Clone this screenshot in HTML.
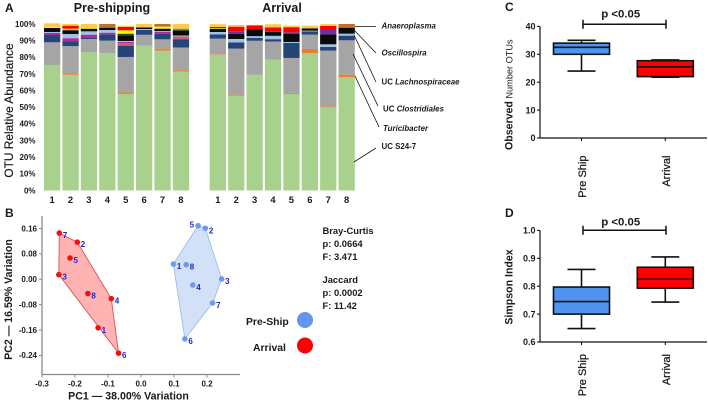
<!DOCTYPE html>
<html lang="en">
<head>
<meta charset="utf-8">
<title>Microbiome composition figure</title>
<style>
html,body{margin:0;padding:0;background:#fff}
svg{display:block;font-family:"Liberation Sans",sans-serif;filter:blur(0.3px)}
text{fill:#1a1a1a}
</style>
</head>
<body>
<svg id="fig" xmlns="http://www.w3.org/2000/svg" width="708" height="400" viewBox="0 0 708 400">
  <g id="panelA">
    <text x="5" y="12" font-size="12" font-weight="bold">A</text>
    <text x="112" y="12" font-size="12.5" font-weight="bold" text-anchor="middle">Pre-shipping</text>
    <text x="282" y="12" font-size="12.5" font-weight="bold" text-anchor="middle">Arrival</text>
    <text transform="translate(13,110.5) rotate(-90)" font-size="11.9" text-anchor="middle" stroke="#1a1a1a" stroke-width="0.2">OTU Relative Abundance</text>
  </g>
  <g id="callouts" stroke="#111" stroke-width="0.8">
    <line x1="355" y1="26.5" x2="376" y2="26.5"/>
    <line x1="354" y1="30" x2="376" y2="53"/>
    <line x1="354" y1="35" x2="376" y2="82"/>
    <line x1="353" y1="54" x2="378" y2="106"/>
    <line x1="355" y1="76" x2="379" y2="127"/>
    <line x1="354" y1="162" x2="376" y2="148"/>
  </g>
  <g font-size="7.9" font-weight="bold">
    <text x="381.5" y="28.5" font-style="italic">Anaeroplasma</text>
    <text x="381.5" y="55.5" font-style="italic">Oscillospira</text>
    <text x="381.5" y="84.5">UC <tspan font-style="italic">Lachnospiraceae</tspan></text>
    <text x="383" y="111.5">UC <tspan font-style="italic">Clostridiales</tspan></text>
    <text x="383" y="131" font-style="italic">Turicibacter</text>
    <text x="381.5" y="149">UC S24-7</text>
  </g>

  <g id="panelB">
    <text x="5" y="217" font-size="12" font-weight="bold">B</text>
    <text x="128.5" y="399.5" font-size="10.6" font-weight="bold" text-anchor="middle">PC1 — 38.00% Variation</text>
    <text transform="translate(12,299.5) rotate(-90)" font-size="10.6" font-weight="bold" text-anchor="middle">PC2 — 16.59% Variation</text>
    <g font-size="9.4" font-weight="bold">
      <text x="322.5" y="234">Bray-Curtis</text>
      <text x="322.5" y="247">p: 0.0664</text>
      <text x="322.5" y="260">F: 3.471</text>
      <text x="322.5" y="283">Jaccard</text>
      <text x="322.5" y="296">p: 0.0002</text>
      <text x="322.5" y="309">F: 11.42</text>
    </g>
    <g>
      <text x="246" y="325" font-size="10.4" font-weight="bold">Pre-Ship</text>
      <circle cx="305" cy="320" r="8" fill="#6495ed"/>
      <text x="253" y="351" font-size="10.4" font-weight="bold">Arrival</text>
      <circle cx="305" cy="345.5" r="8" fill="#ff0000"/>
    </g>
  </g>

  <g id="panelC">
    <text x="505" y="11" font-size="12" font-weight="bold">C</text>
    <text transform="translate(512.5,150) rotate(-90)" font-size="9.2"><tspan font-size="10.6" font-weight="bold">Observed</tspan> Number OTUs</text>
  </g>
  <g id="panelD">
    <text x="505" y="217" font-size="12" font-weight="bold">D</text>
    <text transform="translate(512.5,287) rotate(-90)" font-size="10.6" font-weight="bold" text-anchor="middle">Simpson Index</text>
  </g>
</svg>
<script>
// Panel A: stacked composition, 16 samples (8 pre-shipping, 8 arrival), percent per taxon, bottom to top
const sampleLabels = ['1','2','3','4','5','6','7','8'];
const percentTicks = [0,10,20,30,40,50,60,70,80,90,100];
const taxonGreen   = [75.2,69.5,83,82.4,58,87,84,71.5, 81.5,57,69.5,78.5,58,82.4,50,68];
const taxonOrange  = [0.2,0.8,0,0,0.9,0.3,1.2,0.8, 0.3,0.6,0,0,0.6,2.6,0.5,1.6];
const taxonGray    = [13.6,16.4,8,7.6,21.3,6.2,5.6,13.6, 9.4,27.6,20.4,11,21,8.6,33.5,20.6];
const taxonNavy    = [4.4,2.8,0.6,3.8,6.8,3,3.4,5, 2.6,3.8,1.8,1.4,9,2,2.2,2.8];
const taxonRose    = [0,0,0,0,1.5,0,0,1.6, 0,0,0,0,0,0,0,0];
const taxonMagenta = [1.2,2,2,1,0.7,0,1.2,0, 0,0,0,0,0,0,0,0];
const taxonLight   = [0.6,2.5,2,1.6,0.6,0.5,0.4,0.6, 1.4,2,1,2,0.6,0.4,1.6,1.2];
const taxonBlack   = [2.4,2,1.6,1.4,3.4,1,1.4,2.8, 2,3.2,4,2.4,5,1.4,6,3.6];
const taxonDark    = [0,0.6,0,0,1,0,0,0.5, 0,0,0,0,0,0,0,0];
const taxonYellow  = [0.4,0.6,0.5,0,2,0.3,1.2,0, 0.4,0,0,0,0,0,0,0];
const taxonPurple  = [0,0,0,0,0,0,0,0, 0,1.4,0,0,0.8,0,2.6,0];
const taxonRed     = [0,1.8,0,0,2,0,0,0, 0.6,2.8,2.4,2.6,3.1,0,2.4,0];
const taxonBrown   = [0,0,0,2.2,0,0,1.6,0.8, 0,0,0,0,0,0,0,2.2];
const taxonGold    = [2.4,1,2.3,0,0.8,1.7,0,2.8, 1.7,1,0.4,2,0.9,1.6,1.1,0];
const taxonNames   = ['s24-7','turicibacter','clostridiales','lachnospiraceae','rose','magenta','lightblue','black','darkgreen','yellow','purple','red','brown','gold'];
const taxonColors  = ['#a9d18e','#ed7d31','#a5a5a5','#264478','#c0606a','#b02a9c','#9dc3e6','#0a0a0a','#264a20','#ffff00','#7030a0','#ff0000','#c0702a','#ffc84a'];
const taxonSeries  = [taxonGreen,taxonOrange,taxonGray,taxonNavy,taxonRose,taxonMagenta,taxonLight,taxonBlack,taxonDark,taxonYellow,taxonPurple,taxonRed,taxonBrown,taxonGold];

// Panel B: PCoA coordinates
const pointLabels = ['1','2','3','4','5','6','7','8'];
const preShipPc1 = [0.098,0.195,0.2445,0.157,0.173,0.133,0.217,0.137];
const preShipPc2 = [0.048,0.161,0.001,-0.018,0.169,-0.188,-0.075,0.046];
const arrivalPc1 = [-0.13,-0.193,-0.249,-0.09,-0.215,-0.068,-0.2476,-0.161];
const arrivalPc2 = [-0.153,0.117,0.0145,-0.061,0.067,-0.233,0.146,-0.045];
const preShipHull = [5,2,3,7,6,1];
const arrivalHull = [7,2,4,6,3];
const pc1Ticks = ['-0.3','-0.2','-0.1','0.0','0.1','0.2'];
const pc2Ticks = ['0.16','0.08','0.00','-0.08','-0.16','-0.24'];

// Panels C and D: box plots [low whisker, q1, median, q3, high whisker]
const boxGroups = ['Pre Ship','Arrival'];
const otuPreShip = [24,30,32.5,34,35];
const otuArrival = [21.8,22,25.5,27.7,28];
const otuTicks = [0,10,20,30,40];
const simpsonPreShip = [0.648,0.7,0.745,0.797,0.86];
const simpsonArrival = [0.743,0.793,0.825,0.868,0.905];
const simpsonTicks = [0.6,0.7,0.8,0.9,1.0];

const NS = 'http://www.w3.org/2000/svg';
function mk(parent, tag, attrs, txt) {
  const el = document.createElementNS(NS, tag);
  for (const k in attrs) el.setAttribute(k, attrs[k]);
  if (txt !== undefined) el.textContent = txt;
  parent.appendChild(el);
  return el;
}

/* ---------- Panel A ---------- */
const gA = document.getElementById('panelA');
const yPct = p => 190.5 - p * 1.665;
const barX = i => i < 8 ? 44 + i * 18.4 : 209.7 + (i - 8) * 18.4;
percentTicks.forEach(t => {
  const el = mk(gA, 'text', {x: 35.5, y: yPct(t) + 2.8, 'font-size': 8, 'font-weight': 'bold', 'text-anchor': 'end'}, t + '%');
  
  
});
taxonGreen.forEach((_, i) => {
  const bar = mk(gA, 'g', {});
  
  
  let base = 0;
  taxonSeries.forEach((series, s) => {
    const v = series[i];
    if (v <= 0) return;
    const top = base + v;
    const r = mk(bar, 'rect', {x: barX(i), y: yPct(top), width: 16.3, height: v * 1.665, fill: taxonColors[s]});
    
    
    base = top;
  });
  const lab = mk(gA, 'text', {x: barX(i) + 8.1, y: 203, 'font-size': 9.4, 'font-weight': 'bold', 'text-anchor': 'middle'}, sampleLabels[i % 8]);
  
  
});

/* ---------- Panel B ---------- */
const gB = document.getElementById('panelB');
const xPc = v => 141 + 330 * v;
const yPc = v => 279.3 - 317 * v;
const axB = mk(gB, 'path', {d: 'M42 216V374.5H240', fill: 'none', stroke: '#8a8a8a', 'stroke-width': 1.3});


pc1Ticks.forEach(t => {
  const x = xPc(parseFloat(t));
  const tk = mk(gB, 'line', {x1: x, x2: x, y1: 374.5, y2: 377.5, stroke: '#8a8a8a', 'stroke-width': 1});
  
  
  const lb = mk(gB, 'text', {x: x, y: 386.5, 'font-size': 8, 'font-weight': 'bold', 'text-anchor': 'middle'}, t);
  
  
});
pc2Ticks.forEach(t => {
  const y = yPc(parseFloat(t));
  const tk = mk(gB, 'line', {x1: 39, x2: 42, y1: y, y2: y, stroke: '#8a8a8a', 'stroke-width': 1});
  
  
  const lb = mk(gB, 'text', {x: 37, y: y + 2.8, 'font-size': 8, 'font-weight': 'bold', 'text-anchor': 'end'}, t);
  
  
});
function hull(pc1, pc2, order, fill, stroke, name) {
  const pts = order.map(n => xPc(pc1[n - 1]) + ',' + yPc(pc2[n - 1])).join(' ');
  const p = mk(gB, 'polygon', {points: pts, fill: fill, stroke: stroke, 'stroke-width': 0.9});
  
  
}
hull(arrivalPc1, arrivalPc2, arrivalHull, '#ffb3b3', '#d9534f', 'arrival-hull');
hull(preShipPc1, preShipPc2, preShipHull, '#d3e1f8', '#9dbcea', 'pre-ship-hull');
function scatter(pc1, pc2, color, flipFive, name) {
  pc1.forEach((v, i) => {
    const cx = xPc(v), cy = yPc(pc2[i]);
    const c = mk(gB, 'circle', {cx: cx, cy: cy, r: 2.8, fill: color});
    
    
    const left = flipFive && pointLabels[i] === '5';
    const t = mk(gB, 'text', {x: left ? cx - 8.5 : cx + 3.5, y: left ? cy + 2 : cy + 5, 'font-size': 8, 'font-weight': 'bold', style: 'fill:#2222cc'}, pointLabels[i]);
    
    
  });
}
scatter(arrivalPc1, arrivalPc2, '#ee1111', false, 'arrival');
scatter(preShipPc1, preShipPc2, '#6f9be6', true, 'pre-ship');

/* ---------- Panels C, D ---------- */
function boxPanel(id, ticks, fmt, yScale, series, bracketY, pY, labelY, prefix) {
  const g = document.getElementById(id);
  const axisY = yScale(ticks[0]);
  const topY = yScale(ticks[ticks.length - 1]);
  const ax = mk(g, 'path', {d: 'M540 ' + topY + 'V' + axisY + 'H707', fill: 'none', stroke: '#111', 'stroke-width': 1.2});
  
  
  ticks.forEach(t => {
    const y = yScale(t);
    const tk = mk(g, 'line', {x1: 537, x2: 540, y1: y, y2: y, stroke: '#111', 'stroke-width': 1.1});
    
    
    const lb = mk(g, 'text', {x: 535.5, y: y + 3.2, 'font-size': 9, 'font-weight': 'bold', 'text-anchor': 'end'}, fmt(t));
    
    
  });
  const centers = [581.5, 665.3];
  const colors = ['#4f94ee', '#ff0000'];
  series.forEach((s, i) => {
    const cx = centers[i], box = mk(g, 'g', {stroke: '#111', 'stroke-width': 1.6, fill: 'none'});
    
    
    mk(box, 'line', {x1: cx, x2: cx, y1: yScale(s[0]), y2: yScale(s[4])});
    mk(box, 'line', {x1: cx - 14, x2: cx + 14, y1: yScale(s[0]), y2: yScale(s[0])});
    mk(box, 'line', {x1: cx - 14, x2: cx + 14, y1: yScale(s[4]), y2: yScale(s[4])});
    mk(box, 'rect', {x: cx - 28, y: yScale(s[3]), width: 56, height: yScale(s[1]) - yScale(s[3]), fill: colors[i]});
    mk(box, 'line', {x1: cx - 28, x2: cx + 28, y1: yScale(s[2]), y2: yScale(s[2])});
    const tk = mk(g, 'line', {x1: cx, x2: cx, y1: axisY, y2: axisY + 3, stroke: '#111', 'stroke-width': 1.1});
    
    
    const lb = mk(g, 'text', {transform: 'translate(' + (cx + 4.5) + ',' + labelY + ') rotate(-90)', 'font-size': 11, stroke: '#1a1a1a', 'stroke-width': 0.25, 'text-anchor': 'end'}, boxGroups[i]);
    
    
  });
  const br = mk(g, 'path', {d: 'M583 ' + (bracketY - 4.5) + 'v9M583 ' + bracketY + 'H666M666 ' + (bracketY - 4.5) + 'v9', fill: 'none', stroke: '#111', 'stroke-width': 1.5});
  
  
  const p = mk(g, 'text', {x: 620.7, y: pY, 'font-size': 11.4, 'font-weight': 'bold', 'text-anchor': 'middle'}, 'p <0.05');
  
  
}
boxPanel('panelC', otuTicks, t => String(t), v => 138 - v * 2.79, [otuPreShip, otuArrival], 24.3, 17.5, 155.5, 'otu');
boxPanel('panelD', simpsonTicks, t => t.toFixed(1), v => 342 - (v - 0.6) * 279, [simpsonPreShip, simpsonArrival], 230.3, 225.5, 354, 'simpson');
</script>
</body>
</html>
